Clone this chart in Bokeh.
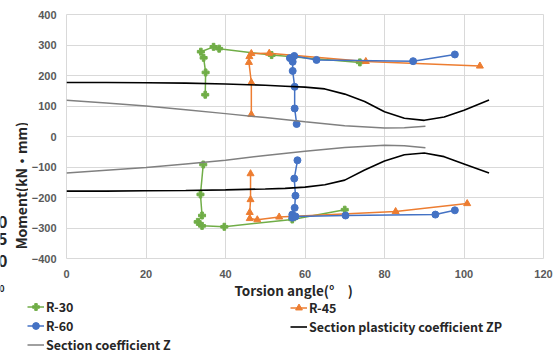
import numpy as np
from bokeh.plotting import figure
from bokeh.layouts import column, row
from bokeh.models import Range1d, Legend, LegendItem, Label, FixedTicker
from bokeh.embed import file_html
from bokeh.resources import INLINE

nan = float("nan")

# R-30 (upper branch, then lower branch)
r30_up_x = [34.9, 35.0, 34.5, 33.8, 37.0, 38.4, 51.6, 73.8]
r30_up_y = [137, 210, 258, 278, 294, 288, 267, 243]
r30_dn_x = [34.4, 33.7, 34.1, 33.0, 34.1, 39.7, 56.8, 70.0]
r30_dn_y = [-92, -190, -259, -280, -293, -296, -272, -240]

# R-45
r45_up_x = [46.5, 46.5, 45.9, 46.0, 46.5, 51.0, 75.3, 104.0]
r45_up_y = [72, 177, 243, 262, 272, 273, 246, 231]
r45_dn_x = [46.3, 46.3, 46.1, 46.1, 48.0, 53.5, 82.8, 100.8]
r45_dn_y = [-122, -207, -249, -269, -273, -264, -246, -220]

# R-60
r60_up_x = [57.9, 57.4, 57.4, 56.9, 56.9, 56.2, 57.3, 62.9, 87.2, 97.7]
r60_up_y = [41, 92, 163, 215, 245, 257, 264, 251, 247, 269]
r60_dn_x = [58.1, 57.3, 57.6, 57.4, 56.8, 56.8, 57.6, 70.2, 92.8, 97.7]
r60_dn_y = [-78, -138, -194, -234, -256, -266, -262, -259, -256, -242]

# Section plasticity coefficient ZP
zp_x = [0, 10, 20, 30, 40, 50, 55, 60, 65, 70, 75, 80, 85, 90, 95, 100, 106.3]
zp_up_y = [177, 177, 176, 175, 172, 168, 165, 162, 156, 139, 115, 81, 60, 53, 64, 86, 120]
zp_dn_y = [-179, -179, -178, -177, -175, -172, -170, -166, -158, -143, -110, -80, -60, -54, -66, -90, -120]

# Section coefficient Z
z_x = [0, 10, 20, 30, 40, 50, 60, 70, 80, 85, 90.3]
z_up_y = [119, 110, 100, 88, 75, 62, 48, 35, 28, 29, 34]
z_dn_y = [-120, -111, -102, -90, -78, -62, -48, -36, -29, -30, -37]

x_ticks = [0, 20, 40, 60, 80, 100, 120]
y_ticks = [-400, -300, -200, -100, 0, 100, 200, 300, 400]

# partly hidden stray digits at the left edge of the picture
stray_digits = ["0", "5", "0"]

def join(a, b):
    return list(a) + [nan] + list(b)

FONT = "Noto Sans CJK JP"
TICKFONT = "Liberation Sans"
TXT = "#262626"
GREEN, ORANGE, BLUE = "#70AD47", "#ED7D31", "#4472C4"
TOP_H = 283
STRIP_W = 28
LEFT_B = 37

def blank(fig):
    fig.frame_align = False
    fig.outline_line_color = None
    fig.background_fill_color = "white"
    fig.border_fill_color = "white"

# ---------- left strip: y-axis title ----------
s = figure(width=STRIP_W, height=TOP_H, output_backend="svg", toolbar_location=None,
           x_range=Range1d(0, STRIP_W), y_range=Range1d(0, TOP_H),
           x_axis_type=None, y_axis_type=None,
           min_border_left=0, min_border_right=0, min_border_top=0, min_border_bottom=0)
blank(s)
s.add_layout(Label(x=20.5, y=TOP_H - 185, angle=np.pi / 2, text="Moment(kN・mm)",
                   text_font=FONT, text_font_style="bold", text_font_size="14px",
                   text_color=TXT, text_align="center", text_baseline="middle"))
for t, yc in zip(stray_digits, [221, 238, 260]):
    s.add_layout(Label(x=7, y=TOP_H - yc, text=t, text_font=FONT, text_font_style="bold",
                       text_font_size="16px", text_color=TXT,
                       text_align="right", text_baseline="middle"))

# ---------- main chart ----------
p = figure(width=555 - STRIP_W, height=TOP_H, output_backend="svg", toolbar_location=None,
           x_range=Range1d(0, 120), y_range=Range1d(-400, 400),
           min_border_left=LEFT_B, min_border_right=12, min_border_top=14,
           min_border_bottom=TOP_H - 258)
p.frame_align = False

p.xaxis.ticker = FixedTicker(ticks=x_ticks)
p.yaxis.ticker = FixedTicker(ticks=y_ticks)
for ax in (p.xaxis[0], p.yaxis[0]):
    ax.axis_line_color = None
    ax.major_tick_line_color = None
    ax.minor_tick_line_color = None
    ax.major_tick_out = 0
    ax.major_tick_in = 0
    ax.minor_tick_out = 0
    ax.major_label_text_font = TICKFONT
    ax.major_label_text_font_style = "bold"
    ax.major_label_text_font_size = "11px"
    ax.major_label_text_color = "#595959"
p.yaxis.major_label_standoff = 10
p.xaxis.major_label_standoff = 11
p.xgrid.grid_line_color = "#d9d9d9"
p.ygrid.grid_line_color = "#d9d9d9"
p.outline_line_color = "#d9d9d9"
p.background_fill_color = "white"
p.border_fill_color = "white"

x30, y30 = join(r30_up_x, r30_dn_x), join(r30_up_y, r30_dn_y)
x45, y45 = join(r45_up_x, r45_dn_x), join(r45_up_y, r45_dn_y)
x60, y60 = join(r60_up_x, r60_dn_x), join(r60_up_y, r60_dn_y)

p.line(x30, y30, line_color=GREEN, line_width=1.5)
p.scatter(x30, y30, marker="plus", size=7, color=GREEN)
p.line(x45, y45, line_color=ORANGE, line_width=1.5)
p.scatter(x45, y45, marker="triangle", size=7, color=ORANGE)
p.line(x60, y60, line_color=BLUE, line_width=1.5)
p.scatter(x60, y60, marker="circle", size=7, color=BLUE)
p.line(join(zp_x, zp_x), join(zp_up_y, zp_dn_y), line_color="black", line_width=1.6)
p.line(join(z_x, z_x), join(z_up_y, z_dn_y), line_color="#808080", line_width=1.5)

# ---------- bottom strip: x-axis title and legend ----------
BOT_H = 354 - TOP_H
q = figure(width=555, height=BOT_H, output_backend="svg", toolbar_location=None,
           x_range=Range1d(0, 555), y_range=Range1d(0, BOT_H),
           x_axis_type=None, y_axis_type=None,
           min_border_left=0, min_border_right=0, min_border_top=0, min_border_bottom=0)
blank(q)
q.add_layout(Label(x=234, y=354 - 289.5, text="Torsion angle(°\u3000)", text_font=FONT,
                   text_font_style="bold", text_font_size="13.5px", text_color=TXT,
                   text_align="left", text_baseline="middle"))
q.add_layout(Label(x=4, y=354 - 288, text="0", text_font=FONT, text_font_style="bold",
                   text_font_size="9px", text_color=TXT,
                   text_align="right", text_baseline="middle"))

g30l = q.line([nan], [nan], line_color=GREEN, line_width=1.5)
g30m = q.scatter([nan], [nan], marker="plus", size=7, color=GREEN)
g45l = q.line([nan], [nan], line_color=ORANGE, line_width=1.5)
g45m = q.scatter([nan], [nan], marker="triangle", size=7, color=ORANGE)
g60l = q.line([nan], [nan], line_color=BLUE, line_width=1.5)
g60m = q.scatter([nan], [nan], marker="circle", size=7, color=BLUE)
gzp = q.line([nan], [nan], line_color="black", line_width=1.6)
gz = q.line([nan], [nan], line_color="#808080", line_width=1.5)

def mk_legend(items, loc):
    lg = Legend(items=items, location=loc, orientation="vertical",
                label_text_font=FONT, label_text_font_style="bold",
                label_text_font_size="12.5px", label_text_color=TXT,
                glyph_width=17, glyph_height=17, label_height=17, label_standoff=2,
                spacing=0, padding=0, margin=0, border_line_color=None,
                background_fill_alpha=0)
    q.add_layout(lg, "center")

mk_legend([LegendItem(label="R-30", renderers=[g30l, g30m]),
           LegendItem(label="R-60", renderers=[g60l, g60m]),
           LegendItem(label="Section coefficient Z", renderers=[gz])], (27, 0.5))
mk_legend([LegendItem(label="R-45", renderers=[g45l, g45m]),
           LegendItem(label="Section plasticity coefficient ZP", renderers=[gzp])], (290, 18.5))

layout = column(row(s, p, spacing=0), q, spacing=0)
open("out.html", "w").write(file_html(layout, INLINE))
